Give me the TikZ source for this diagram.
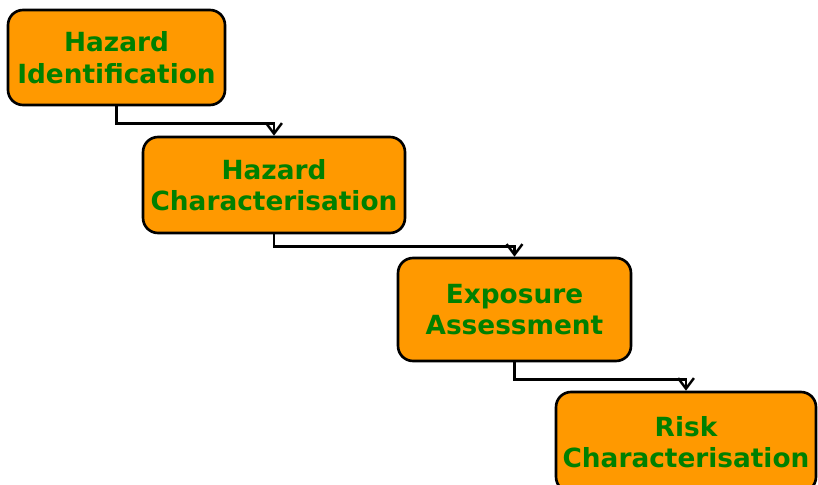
\documentclass[tikz,border=0pt]{standalone}
\usepackage{fontspec}
\setmainfont{DejaVu Sans}
\usetikzlibrary{arrows.meta}
\usetikzlibrary{calc}

\definecolor{boxfill}{HTML}{FF9900}
\definecolor{boxtext}{HTML}{008000}
\tikzset{
	stepbox/.style={draw, line width=1.5pt, rounded corners=0.3cm, fill=boxfill, text=boxtext, align=center, font=\bfseries\fontsize{15}{18}\selectfont},
	conn/.style={line width=1.4pt, -{Straight Barb[length=6pt,width=9pt]}}
}

\begin{document}
\begin{tikzpicture}[x=0.02cm, y=-0.02cm]

	% fix the page
	\useasboundingbox (0,0) rectangle (818,484);

	% the four steps
	\node[stepbox, minimum width=4.34cm, minimum height=1.9cm] (hazId) at (116.5,57.5) {Hazard\\Identification};
	\node[stepbox, minimum width=5.24cm, minimum height=1.92cm] (hazChar) at (274,185) {Hazard\\Characterisation};
	\node[stepbox, minimum width=4.66cm, minimum height=2.06cm] (expAss) at (514.5,309.5) {Exposure\\Assessment};
	\node[stepbox, minimum width=5.2cm, minimum height=2.0cm] (riskChar) at (686,442) {Risk\\Characterisation};

	% connections between steps
	\draw[conn] (hazId.south) -- ++(0,17) -| (hazChar.north);
	\draw[conn] (hazChar.south) -- ++(0,12) -| (expAss.north);
	\draw[conn] (expAss.south) -- ++(0,17) -| (riskChar.north);

\end{tikzpicture}
\end{document}
